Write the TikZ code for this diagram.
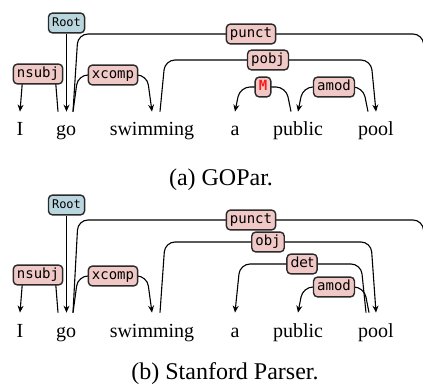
\documentclass[tikz,border=0pt]{standalone}
\usepackage{xcolor}
\usepackage{fontspec}
\setmainfont{Liberation Serif}
\newfontfamily\relmono{DejaVu Sans Mono}
\newfontfamily\relsans{DejaVu Sans}
\usepackage{tikz}
\usetikzlibrary{arrows.meta,calc,backgrounds}
\definecolor{relPink}{HTML}{F0C8C6}
\definecolor{rootBlue}{HTML}{B9D6DE}
\definecolor{boxDark}{HTML}{2A2A2A}
\definecolor{mRed}{HTML}{FF1A1A}

\begin{document}
\begin{tikzpicture}[x=0.5pt,y=-0.5pt,
  word/.style={font=\fontsize{10}{12}\selectfont,anchor=base,text height=8pt,text depth=2pt,inner xsep=1pt,inner ysep=4pt},
  rel/.style={draw=boxDark,fill=relPink,line width=0.7pt,rounded corners=2pt,font=\relmono\fontsize{7}{8}\selectfont,text height=5.2pt,text depth=1.5pt,inner xsep=1.8pt,inner ysep=1.6pt},
  rootrel/.style={rel,fill=rootBlue,font=\relmono\fontsize{6}{7}\selectfont},
  dep/.style={line width=0.55pt,rounded corners=5pt,-{Stealth[length=3.5pt,width=3pt]}},
  caption/.style={font=\fontsize{12}{14}\selectfont,anchor=base}]
\useasboundingbox (0,0) rectangle (423,385);
% (a) GOPar
\node[word] (a-I) at (20,136) {I};
\node[word] (a-go) at (66,136) {go};
\node[word] (a-swim) at (152,136) {swimming};
\node[word] (a-a) at (235,136) {a};
\node[word] (a-pub) at (298,136) {public};
\node[word] (a-pool) at (376,136) {pool};
\coordinate (a-dot) at (428,112);
\coordinate (a-goL) at ([xshift=-4pt]a-go.north);
\coordinate (a-goR) at ([xshift=3.5pt]a-go.north);
\coordinate (a-swimR) at ([xshift=4pt]a-swim.north);
\coordinate (a-pubL) at ([xshift=-3.5pt]a-pub.north);
\coordinate (a-poolL) at ([xshift=-4pt]a-pool.north);
\node[rootrel] (a-root) at (66.5,23) {Root};
\node[rel] (a-nsubj) at (38,74) {nsubj};
\node[rel] (a-xcomp) at (113,75) {xcomp};
\node[rel] (a-punct) at (251,34) {punct};
\node[rel] (a-pobj) at (268,60) {pobj};
\node[rel] (a-m) at (263,87) {\textcolor{mRed}{\bfseries M}};
\node[rel] (a-amod) at (334,87) {amod};
\begin{scope}[on background layer]
\draw[dep] (a-root) -- (a-root |- a-go.north);
\draw[dep] (a-goL) -- ($(a-goL |- a-nsubj)+(-1.5pt,0)$) -- ($(a-I.north |- a-nsubj)+(1.5pt,0)$) -- (a-I.north);
\draw[dep] (a-goR) -- ($(a-goR |- a-xcomp)+(2.5pt,0)$) -- ($(a-swim.north |- a-xcomp)+(-2.5pt,0)$) -- (a-swim.north);
\draw[dep] (a-goR) -- ($(a-goR |- a-punct)+(2.5pt,0)$) -- ($(a-dot |- a-punct)+(-2.5pt,0)$) -- (a-dot);
\draw[dep] (a-swimR) -- ($(a-swimR |- a-pobj)+(2.5pt,0)$) -- ($(a-pool.north |- a-pobj)+(-2.5pt,0)$) -- (a-pool.north);
\draw[dep] (a-pubL) -- ($(a-pubL |- a-m)+(-2.5pt,0)$) -- ($(a-a.north |- a-m)+(2.5pt,0)$) -- (a-a.north);
\draw[dep] (a-poolL) -- ($(a-poolL |- a-amod)+(-2.5pt,0)$) -- ($(a-pub.north |- a-amod)+(2.5pt,0)$) -- (a-pub.north);
\end{scope}
\node[caption] (a-cap) at (221,185) {(a) GOPar.};
% (b) Stanford Parser
\node[word] (b-I) at (20,337) {I};
\node[word] (b-go) at (66,337) {go};
\node[word] (b-swim) at (152,337) {swimming};
\node[word] (b-a) at (235,337) {a};
\node[word] (b-pub) at (298,337) {public};
\node[word] (b-pool) at (376,337) {pool};
\coordinate (b-dot) at (428,313);
\coordinate (b-goL) at ([xshift=-4pt]b-go.north);
\coordinate (b-goR) at ([xshift=3.5pt]b-go.north);
\coordinate (b-swimR) at ([xshift=4pt]b-swim.north);
\coordinate (b-poolL) at ([xshift=-3.5pt]b-pool.north);
\coordinate (b-poolLL) at ([xshift=-5pt]b-pool.north);
\node[rootrel] (b-root) at (66.5,205) {Root};
\node[rel] (b-nsubj) at (38,275) {nsubj};
\node[rel] (b-xcomp) at (113,276) {xcomp};
\node[rel] (b-punct) at (251,220) {punct};
\node[rel] (b-obj) at (268,242) {obj};
\node[rel,font=\relsans\fontsize{7}{8}\selectfont] (b-det) at (302,264) {det};
\node[rel] (b-amod) at (334,287) {amod};
\begin{scope}[on background layer]
\draw[dep] (b-root) -- (b-root |- b-go.north);
\draw[dep] (b-goL) -- ($(b-goL |- b-nsubj)+(-1.5pt,0)$) -- ($(b-I.north |- b-nsubj)+(1.5pt,0)$) -- (b-I.north);
\draw[dep] (b-goR) -- ($(b-goR |- b-xcomp)+(2.5pt,0)$) -- ($(b-swim.north |- b-xcomp)+(-2.5pt,0)$) -- (b-swim.north);
\draw[dep] (b-goR) -- ($(b-goR |- b-punct)+(2.5pt,0)$) -- ($(b-dot |- b-punct)+(-2.5pt,0)$) -- (b-dot);
\draw[dep] (b-swimR) -- ($(b-swimR |- b-obj)+(2.5pt,0)$) -- ($(b-pool.north |- b-obj)+(-2.5pt,0)$) -- (b-pool.north);
\draw[dep] (b-poolLL) -- ($(b-poolLL |- b-det)+(-2.5pt,0)$) -- ($(b-a.north |- b-det)+(2.5pt,0)$) -- (b-a.north);
\draw[dep] (b-poolL) -- ($(b-poolL |- b-amod)+(-2.5pt,0)$) -- ($(b-pub.north |- b-amod)+(2.5pt,0)$) -- (b-pub.north);
\end{scope}
\node[caption] (b-cap) at (225,379) {(b) Stanford Parser.};
\end{tikzpicture}
\end{document}
